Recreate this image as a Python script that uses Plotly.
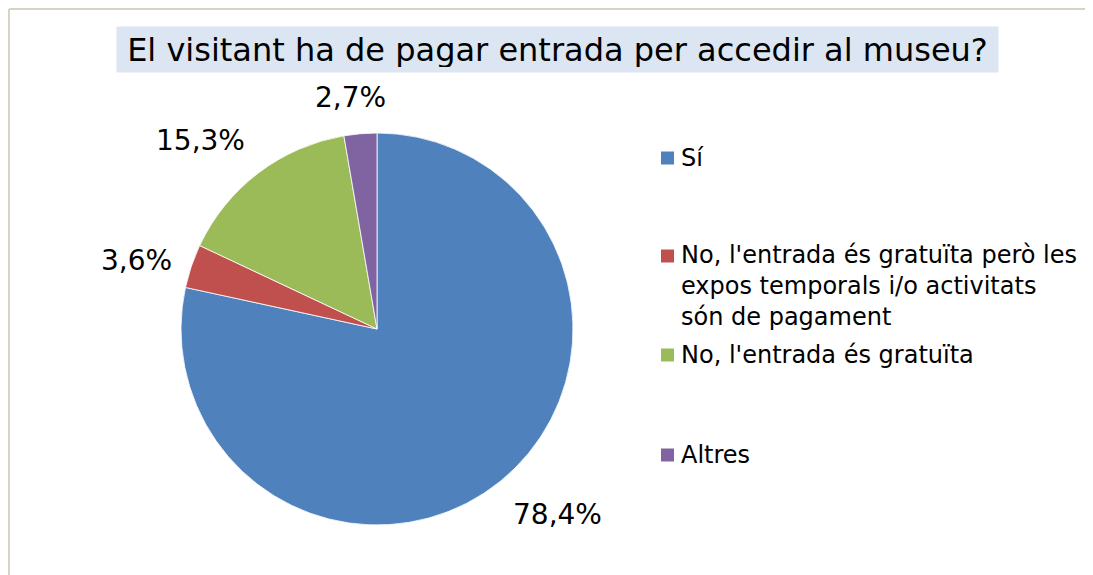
import math
import plotly.graph_objects as go

# ---- data ----
categories = [
    "Sí",
    "No, l'entrada és gratuïta però les<br>expos temporals i/o activitats<br>són de pagament",
    "No, l'entrada és gratuïta",
    "Altres",
]
values = [78.4, 3.6, 15.3, 2.7]
colors = ["#4F81BD", "#C0504D", "#9BBB59", "#8064A2"]
title_text = "El visitant ha de pagar entrada per accedir al museu?"

# ---- layout constants (screen pixels) ----
W, H = 1093, 575
OFF = 8  # page body margin offset
CX, CY, R = 377, 329, 196
FONT = "DejaVu Sans, Verdana, sans-serif"


def px(x):
    return (x - OFF) / W


def py(y):
    return 1 - (y - OFF) / H


fig = go.Figure()
fig.add_trace(go.Pie(
    labels=[c.replace("<br>", " ") for c in categories],
    values=values,
    sort=False,
    direction="clockwise",
    rotation=0,
    textinfo="none",
    marker=dict(colors=colors, line=dict(color="white", width=0.8)),
    domain=dict(x=[px(CX - R), px(CX + R)], y=[py(CY + R), py(CY - R)]),
    showlegend=False,
    hovertemplate="%{label}: %{value:.1f}%<extra></extra>",
))

annotations = []
shapes = []

# data labels placed outside, derived from the values
total = sum(values)
cum = 0.0
for v in values:
    mid = (cum + v / 2) / total * 360.0
    cum += v
    sx = math.sin(math.radians(mid))
    sd = -math.cos(math.radians(mid))
    dist = R + 18
    ax = CX + sx * dist
    ay = CY + sd * dist
    xa = "left" if sx > 0.4 else ("right" if sx < -0.4 else "center")
    ya = "top" if sd > 0.4 else ("bottom" if sd < -0.4 else "middle")
    xshift = -8 if xa == "center" else 0
    annotations.append(dict(
        x=px(ax), y=py(ay), xref="paper", yref="paper",
        xanchor=xa, yanchor=ya, showarrow=False, xshift=xshift,
        text=f"{v:.1f}%".replace(".", ","),
        font=dict(family=FONT, size=28, color="#000000"),
    ))

# title with shaded box
annotations.append(dict(
    x=px(557), y=py(49), xref="paper", yref="paper",
    xanchor="center", yanchor="middle", showarrow=False,
    text=title_text, width=871, height=35, borderpad=5,
    bgcolor="#DCE6F2",
    font=dict(family=FONT, size=32, color="#000000"),
))

# legend (manual, to mimic spaced layout)
legend_y = [158, 256, 355, 455]
for cat, col, ly in zip(categories, colors, legend_y):
    nlines = cat.count("<br>") + 1
    if nlines == 1:
        annotations.append(dict(
            x=px(679), y=py(ly), xref="paper", yref="paper",
            xanchor="left", yanchor="middle", showarrow=False, align="left",
            text=cat, font=dict(family=FONT, size=24, color="#000000"),
        ))
    else:
        annotations.append(dict(
            x=px(679), y=py(ly - 17), xref="paper", yref="paper",
            xanchor="left", yanchor="top", showarrow=False, align="left",
            text=cat, font=dict(family=FONT, size=24, color="#000000"),
        ))
    shapes.append(dict(
        type="rect", xref="paper", yref="paper",
        x0=px(661), x1=px(674), y0=py(ly + 6.5), y1=py(ly - 6.5),
        fillcolor=col, line=dict(width=0),
    ))

# outer chart border (only top and left edges visible)
border = dict(color="#D9D4C0", width=2)
shapes.append(dict(type="line", xref="paper", yref="paper",
                   x0=px(9), x1=1.2, y0=py(9), y1=py(9), line=border))
shapes.append(dict(type="line", xref="paper", yref="paper",
                   x0=px(9), x1=px(9), y0=py(9), y1=-0.2, line=border))

fig.update_layout(
    width=W, height=H,
    margin=dict(l=0, r=0, t=0, b=0),
    paper_bgcolor="white",
    plot_bgcolor="white",
    annotations=annotations,
    shapes=shapes,
    showlegend=False,
)

fig.write_html("out.html")
